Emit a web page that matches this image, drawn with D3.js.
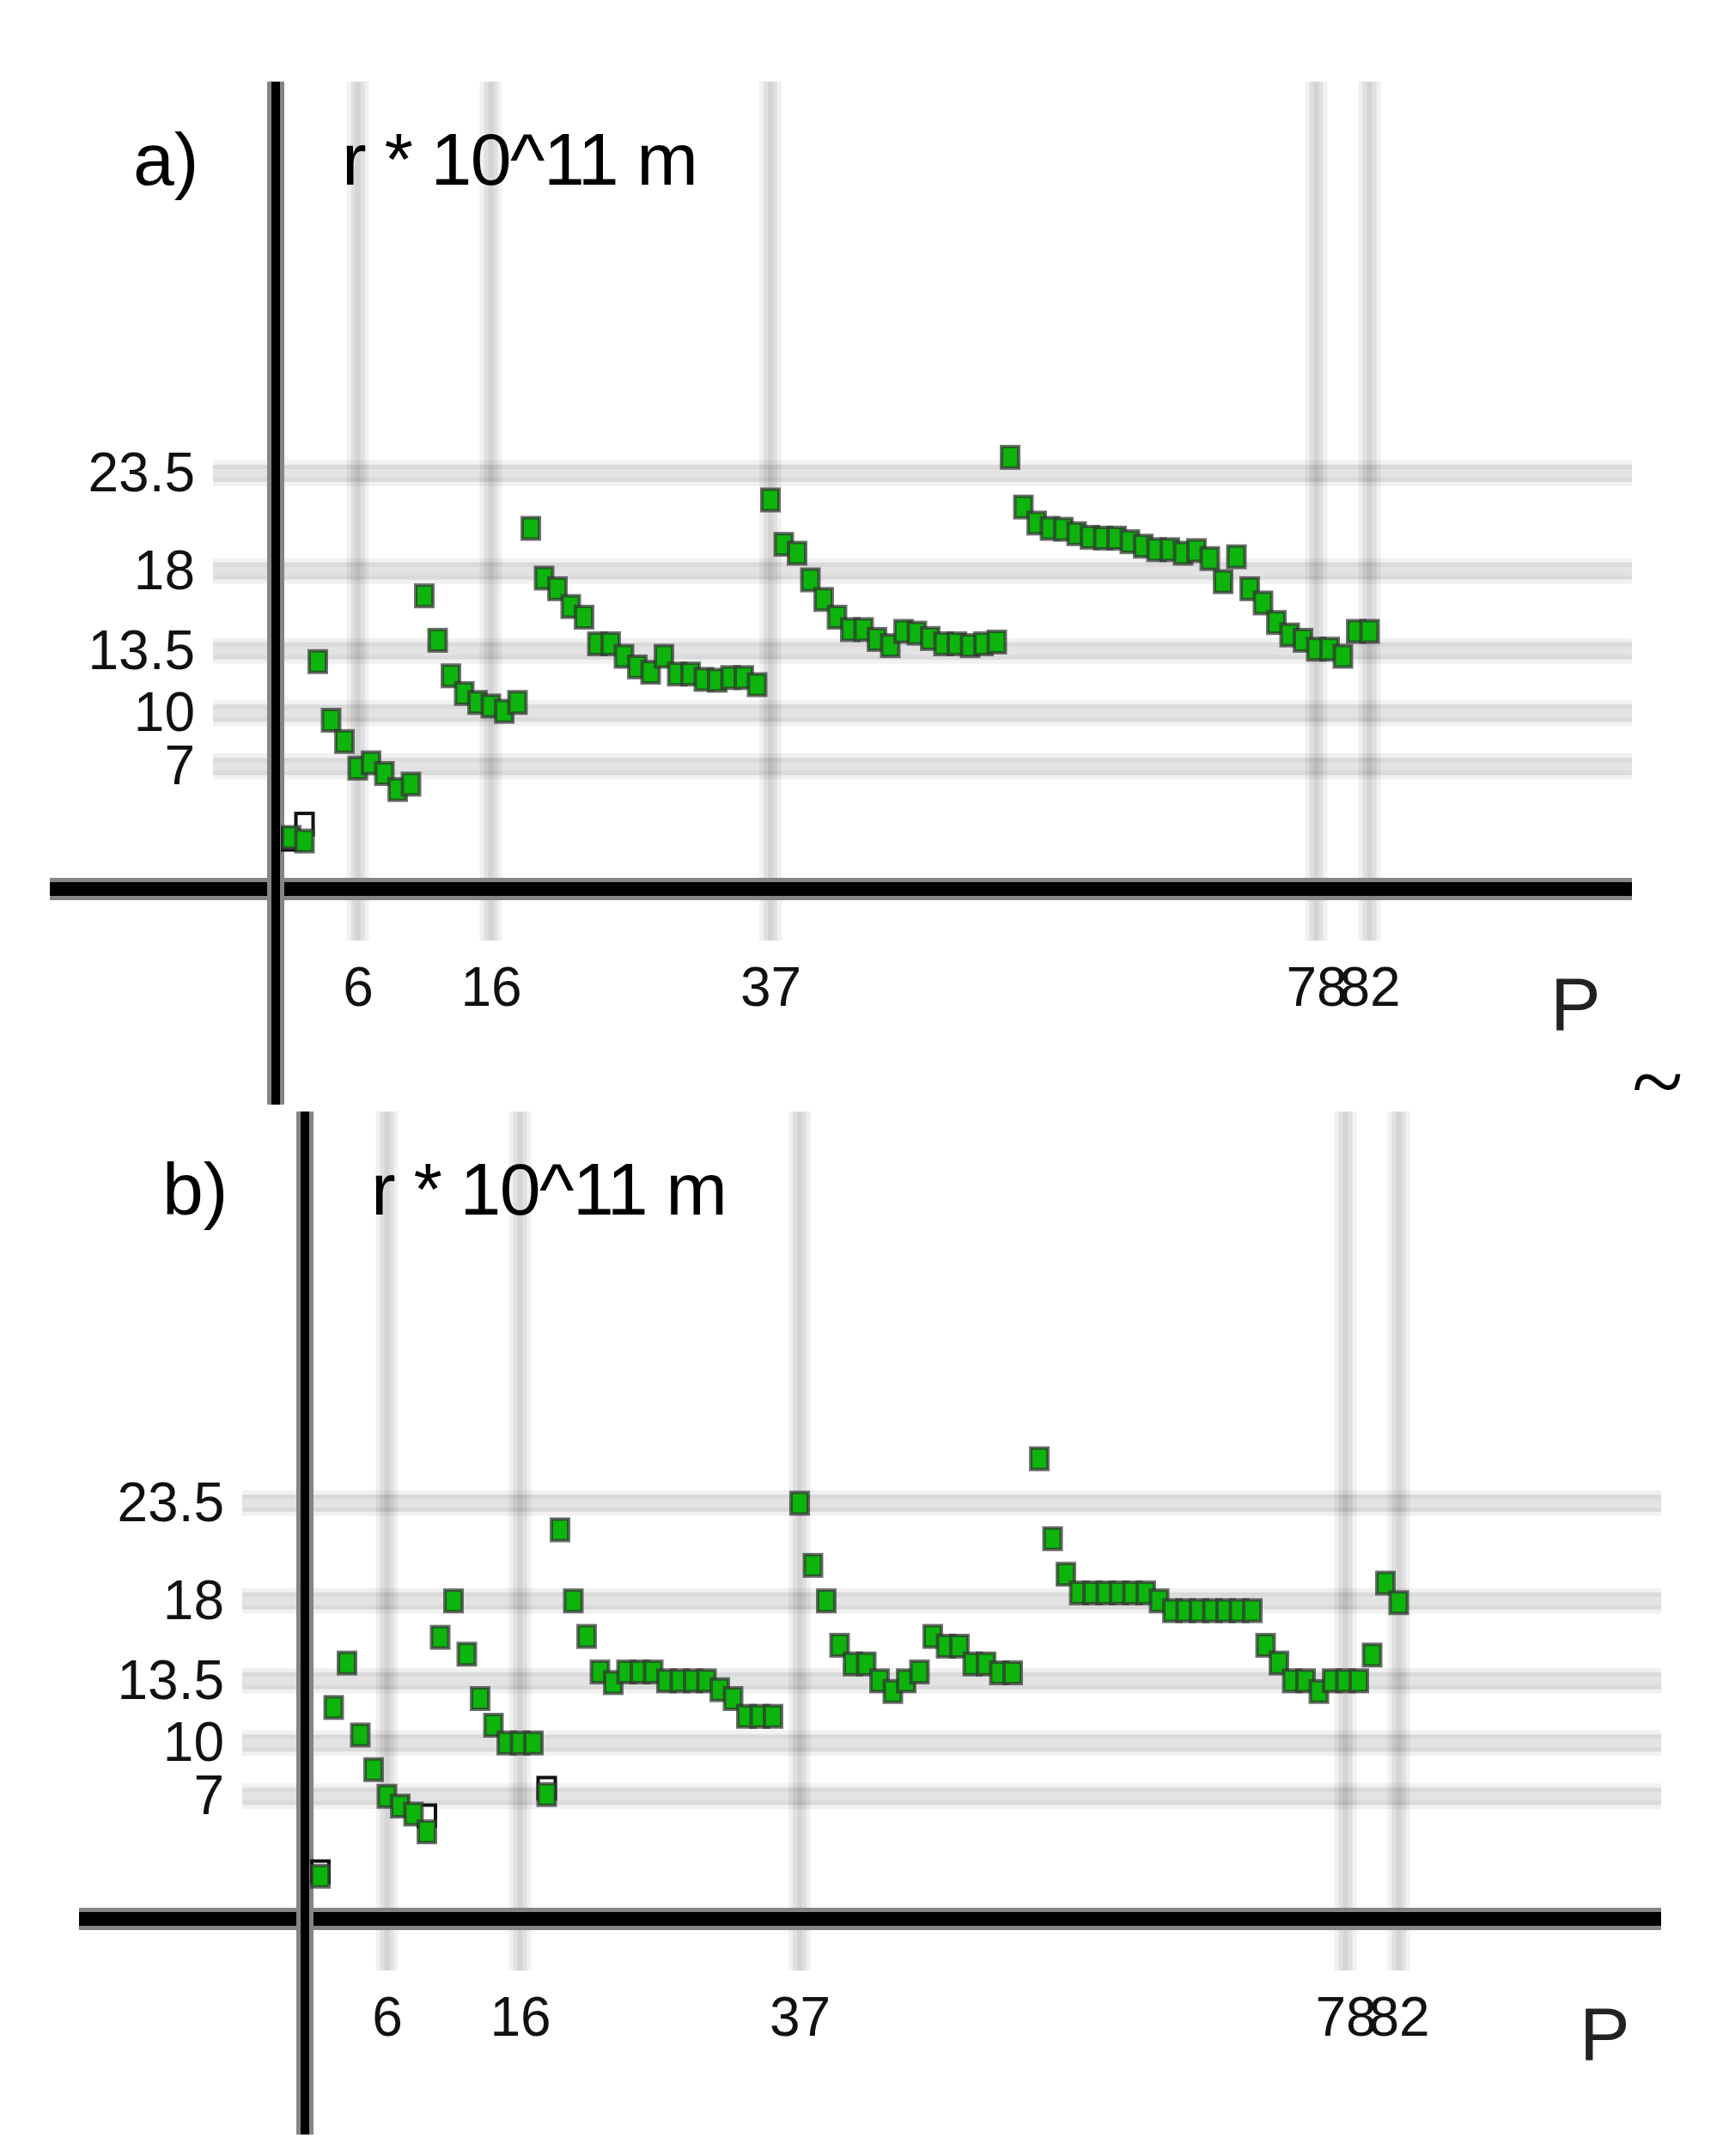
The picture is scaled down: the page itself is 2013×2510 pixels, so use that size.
<!DOCTYPE html>
<html>
<head>
<meta charset="utf-8">
<script src="https://cdn.jsdelivr.net/npm/d3@7"></script>
<style>
    body { margin: 0; background: #ffffff; }
    text { font-family: "Liberation Sans", Arial, sans-serif; }
</style>
</head>
<body>
<div id="chart"></div>
<script>
// period index P (x) and radius r * 10^11 m (y)
var periods = [1, 2, 3, 4, 5, 6, 7, 8, 9, 10, 11, 12, 13, 14, 15, 16, 17, 18, 19, 20,
    21, 22, 23, 24, 25, 26, 27, 28, 29, 30, 31, 32, 33, 34, 35, 36, 37, 38, 39, 40,
    41, 42, 43, 44, 45, 46, 47, 48, 49, 50, 51, 52, 53, 54, 55, 56, 57, 58, 59, 60,
    61, 62, 63, 64, 65, 66, 67, 68, 69, 70, 71, 72, 73, 74, 75, 76, 77, 78, 79, 80,
    81, 82];

var radiusA = [3.0, 2.8, 12.9, 9.6, 8.4, 6.9, 7.2, 6.6, 5.7, 6.0,
    16.6, 14.1, 12.1, 11.1, 10.6, 10.4, 10.1, 10.6, 20.4, 17.6,
    17.0, 16.0, 15.4, 13.9, 13.9, 13.2, 12.6, 12.3, 13.2, 12.2,
    12.2, 11.9, 11.85, 12.0, 12.0, 11.6, 22.0, 19.5, 19.0, 17.5,
    16.4, 15.4, 14.7, 14.7, 14.15, 13.8, 14.6, 14.5, 14.2, 13.9,
    13.9, 13.8, 13.9, 14.0, 24.4, 21.6, 20.7, 20.4, 20.35, 20.1,
    19.9, 19.85, 19.85, 19.65, 19.4, 19.2, 19.2, 19.0, 19.15, 18.7,
    17.4, 18.8, 17.0, 16.2, 15.1, 14.4, 14.1, 13.6, 13.6, 13.2,
    14.6, 14.6];

var radiusB = [2.5, 12.0, 14.5, 10.45, 8.5, 7.0, 6.45, 6.0, 5.0, 15.95,
    18.0, 15.0, 12.5, 11.0, 10.0, 10.0, 10.0, 7.1, 22.0, 18.0,
    16.0, 14.0, 13.4, 14.0, 14.0, 14.0, 13.5, 13.5, 13.5, 13.5,
    13.0, 12.5, 11.5, 11.5, 11.5, null, 23.5, 20.0, 18.0, 15.5,
    14.45, 14.45, 13.5, 12.9, 13.5, 14.0, 16.0, 15.45, 15.45, 14.45,
    14.45, 13.95, 13.95, null, 26.0, 21.5, 19.5, 18.45, 18.45, 18.45,
    18.45, 18.45, 18.45, 18.0, 17.45, 17.45, 17.45, 17.45, 17.45, 17.45,
    17.45, 15.5, 14.5, 13.5, 13.5, 12.9, 13.5, 13.5, 13.5, 14.95,
    19.0, 17.9];

// hollow markers peeking out behind some points
var ghostPeriodsA = [1, 2];
var ghostRadiusA = [2.9, 3.75];
var ghostPeriodsB = [1, 9, 18];
var ghostRadiusB = [2.75, 5.9, 7.45];

var yTicks = [7, 10, 13.5, 18, 23.5];
var xTicks = [6, 16, 37, 78, 82];
var panelLabels = ["a)", "b)"];
var unitLabel = "r * 10^11 m";
var axisName = "P";


RadiusPanel = function(_svg, _label, _values, _ghostP, _ghostR, _dx, _dy) {
    this.svg = _svg;
    this.label = _label;
    this.values = _values;
    this.ghostP = _ghostP;
    this.ghostR = _ghostR;
    this.dx = _dx;
    this.dy = _dy;

    this.initVis();
}

RadiusPanel.prototype.initVis = function() {
    var vis = this;

    vis.g = vis.svg.append("g")
        .attr("transform", "translate(" + vis.dx + "," + vis.dy + ")");

    vis.x = d3.scaleLinear().domain([0, 82]).range([323.5, 1594.5]);
    vis.y = d3.scaleLinear().domain([0, 23.5]).range([1037, 551]);

    vis.axisX = 321;
    vis.top = 95;

    // grid bands
    var hGrid = vis.g.append("g").style("mix-blend-mode", "multiply");
    [[30, "#f1f1f1"], [20, "#dadada"], [10, "#e3e3e3"]].forEach(function(s) {
        hGrid.selectAll(null).data(yTicks).enter().append("line")
            .attr("x1", 248).attr("x2", 1900)
            .attr("y1", function(d) { return vis.y(d); })
            .attr("y2", function(d) { return vis.y(d); })
            .attr("stroke", s[1]).attr("stroke-width", s[0]);
    });

    var vGrid = vis.g.append("g").style("mix-blend-mode", "multiply");
    [[26, "#f1f1f1"], [16, "#e0e0e0"], [6, "#d4d4d4"]].forEach(function(s) {
        vGrid.selectAll(null).data(xTicks).enter().append("line")
            .attr("y1", vis.top).attr("y2", 1095)
            .attr("x1", function(d) { return vis.x(d); })
            .attr("x2", function(d) { return vis.x(d); })
            .attr("stroke", s[1]).attr("stroke-width", s[0]);
    });

    // main axes
    vis.g.append("line")
        .attr("x1", 58).attr("x2", 1900).attr("y1", 1035).attr("y2", 1035)
        .attr("stroke", "#858585").attr("stroke-width", 26);
    vis.g.append("line")
        .attr("x1", 58).attr("x2", 1900).attr("y1", 1035).attr("y2", 1035)
        .attr("stroke", "#000").attr("stroke-width", 16);
    vis.g.append("line")
        .attr("x1", vis.axisX).attr("x2", vis.axisX).attr("y1", vis.top).attr("y2", 1286)
        .attr("stroke", "#858585").attr("stroke-width", 20);
    vis.g.append("line")
        .attr("x1", vis.axisX).attr("x2", vis.axisX).attr("y1", vis.top).attr("y2", 1286)
        .attr("stroke", "#000").attr("stroke-width", 10);

    // tick labels
    vis.g.append("g")
        .attr("transform", "translate(" + vis.axisX + ",0)")
        .call(d3.axisLeft(vis.y).tickValues(yTicks).tickSize(0).tickPadding(94)
            .tickFormat(function(d) { return String(d); }))
        .call(function(g) { g.select(".domain").remove(); })
        .attr("font-size", 64)
        .attr("font-family", "Liberation Sans, Arial, sans-serif")
        .selectAll("text").attr("fill", "#111");

    vis.g.append("g")
        .attr("transform", "translate(0," + vis.y(0) + ")")
        .call(d3.axisBottom(vis.x).tickValues(xTicks).tickSize(0).tickPadding(89)
            .tickFormat(function(d) { return String(d); }))
        .call(function(g) { g.select(".domain").remove(); })
        .attr("font-size", 64)
        .attr("font-family", "Liberation Sans, Arial, sans-serif")
        .selectAll("text").attr("fill", "#111");

    // labels
    vis.g.append("text")
        .attr("x", 155).attr("y", 215)
        .style("font-size", "86px")
        .text(vis.label);

    vis.g.append("text")
        .attr("x", 398).attr("y", 215)
        .attr("textLength", 415)
        .style("font-size", "86px")
        .text(unitLabel);

    vis.g.append("text")
        .attr("x", 1805).attr("y", 1199)
        .style("font-size", "88px")
        .style("fill", "#222")
        .text(axisName);

    vis.wrangleData();
}

RadiusPanel.prototype.wrangleData = function() {
    var vis = this;

    vis.points = periods.map(function(p, i) {
        return { p: p, r: vis.values[i] };
    }).filter(function(d) { return d.r !== null; });

    vis.ghosts = vis.ghostP.map(function(p, i) {
        return { p: p, r: vis.ghostR[i] };
    });

    vis.updateVis();
}

RadiusPanel.prototype.updateVis = function() {
    var vis = this;
    var w = 20, h = 25;

    vis.g.append("g").selectAll("rect")
        .data(vis.ghosts)
        .enter().append("rect")
        .attr("x", function(d) { return vis.x(d.p) - w / 2; })
        .attr("y", function(d) { return vis.y(d.r) - h / 2; })
        .attr("width", w).attr("height", h)
        .attr("fill", "#fff")
        .attr("stroke", "#111")
        .attr("stroke-width", 4);

    vis.g.append("g").selectAll("rect")
        .data(vis.points)
        .enter().append("rect")
        .attr("x", function(d) { return vis.x(d.p) - w / 2; })
        .attr("y", function(d) { return vis.y(d.r) - h / 2; })
        .attr("width", w).attr("height", h)
        .attr("fill", "#0cb40c")
        .attr("stroke", "#323232")
        .attr("stroke-opacity", 0.7)
        .attr("stroke-width", 4);
}


var svg = d3.select("#chart").append("svg")
    .attr("width", 2013)
    .attr("height", 2510)
    .style("background", "#fff");

new RadiusPanel(svg, panelLabels[0], radiusA, ghostPeriodsA, ghostRadiusA, 0, 0);
new RadiusPanel(svg, panelLabels[1], radiusB, ghostPeriodsB, ghostRadiusB, 34, 1199);

svg.append("text")
    .attr("x", 1900).attr("y", 1296)
    .style("font-family", "Liberation Serif, serif")
    .style("font-size", "110px")
    .text("~");
</script>
</body>
</html>
